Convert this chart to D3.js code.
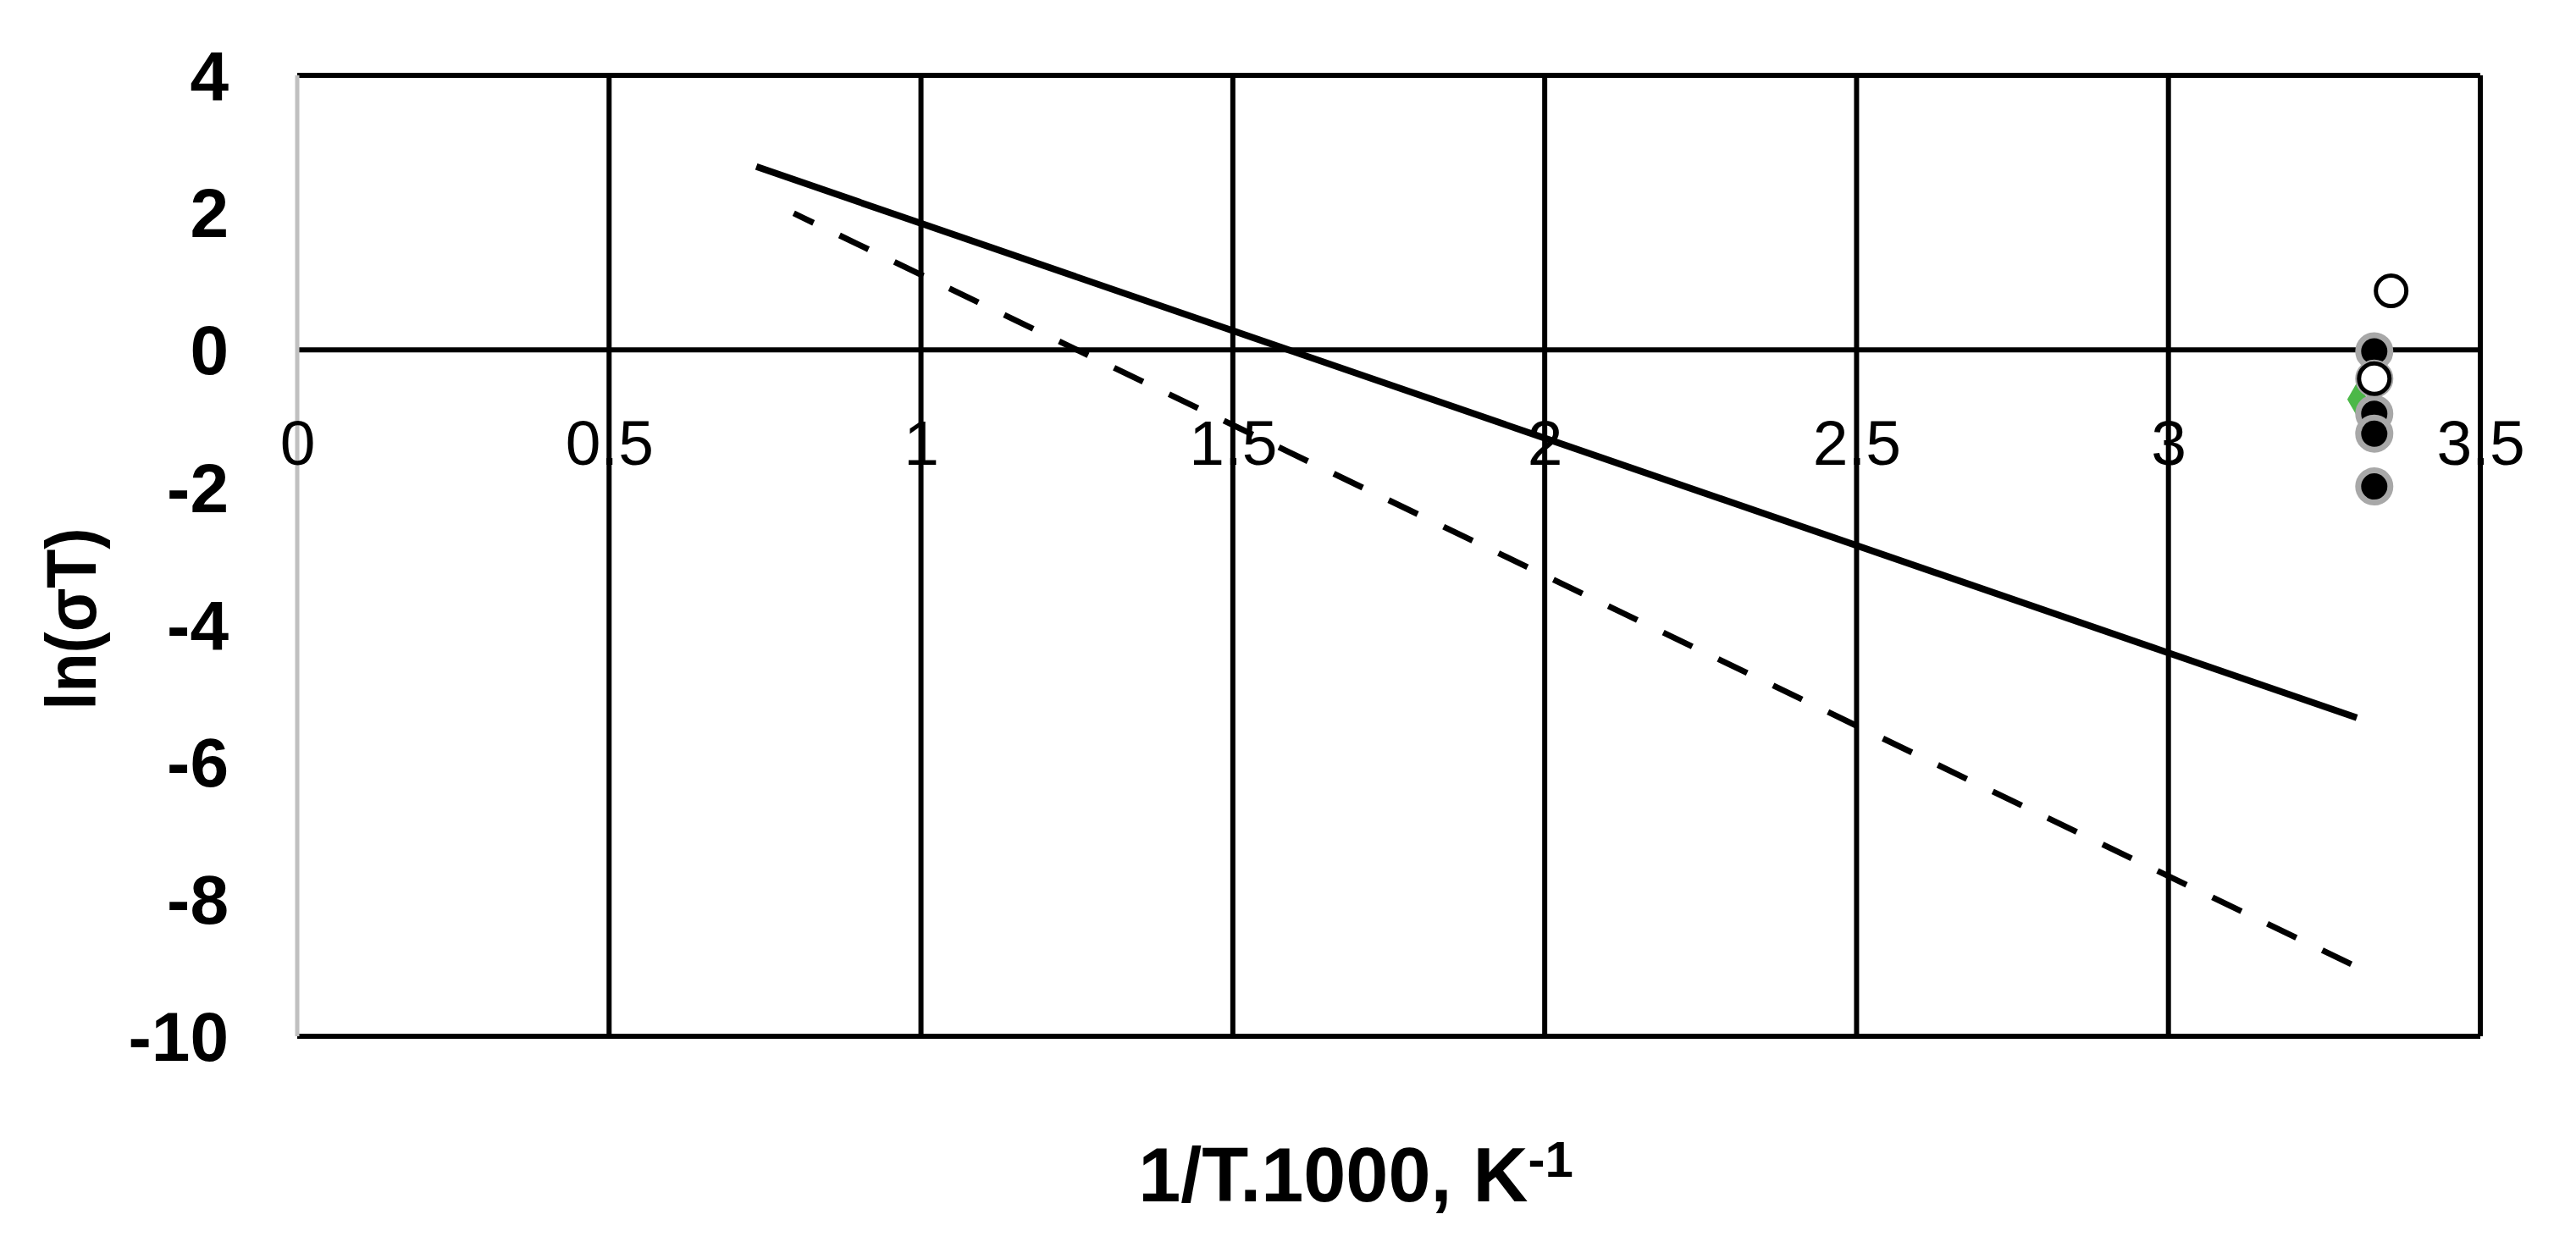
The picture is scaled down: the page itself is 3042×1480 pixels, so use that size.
<!DOCTYPE html>
<html>
<head>
<meta charset="utf-8">
<script src="https://cdn.jsdelivr.net/npm/d3@7"></script>
<style>
  html, body { margin: 0; padding: 0; background: #fff; }
  svg { display: block; }
</style>
</head>
<body>
<svg id="chart" width="3042" height="1480"></svg>
<script>
// tick values
const xTicks = [0, 0.5, 1, 1.5, 2, 2.5, 3, 3.5];
const yTicks = [4, 2, 0, -2, -4, -6, -8, -10];
const hLines = [4, 0, -10];

// fitted lines (end points)
const solidX = [0.736, 3.302];
const solidY = [2.67, -5.36];
const dashX = [0.796, 3.302];
const dashY = [1.99, -8.99];

// measured points near 1/T = 3.3
const filledX = [3.33, 3.33, 3.33, 3.33, 3.33];
const filledY = [-0.02, -0.42, -0.93, -1.22, -1.99];
const openX = [3.357, 3.33];
const openY = [0.86, -0.42];
const greenX = [3.303];
const greenY = [-0.72];

const svg = d3.select("#chart");
const plotLeft = 351, plotRight = 2929, plotTop = 89, plotBottom = 1224;

const x = d3.scaleLinear().domain([0, 3.5]).range([plotLeft, plotRight]);
const y = d3.scaleLinear().domain([-10, 4]).range([plotBottom, plotTop]);

// vertical gridlines
svg.append("g").selectAll("line")
  .data(xTicks.filter(d => d > 0))
  .join("line")
  .attr("x1", d => x(d)).attr("x2", d => x(d))
  .attr("y1", y(4)).attr("y2", y(-10))
  .attr("stroke", "#000").attr("stroke-width", 6);

// horizontal lines: top, zero axis, bottom
svg.append("g").selectAll("line")
  .data(hLines)
  .join("line")
  .attr("x1", x(0)).attr("x2", x(3.5))
  .attr("y1", d => y(d)).attr("y2", d => y(d))
  .attr("stroke", "#000").attr("stroke-width", 6);

// y axis (grey)
svg.append("line")
  .attr("x1", x(0)).attr("x2", x(0))
  .attr("y1", y(4)).attr("y2", y(-10))
  .attr("stroke", "#c0c0c0").attr("stroke-width", 5);

// x tick labels sit under the zero line
const xAxis = svg.append("g")
  .attr("transform", `translate(0,${y(0)})`)
  .call(d3.axisBottom(x).tickValues(xTicks).tickSize(0).tickPadding(82)
    .tickFormat(d => String(d)));
xAxis.select(".domain").remove();
xAxis.selectAll("text")
  .attr("font-family", "'Liberation Sans', Arial, sans-serif")
  .attr("font-size", 75).attr("fill", "#000");

const yAxis = svg.append("g")
  .attr("transform", `translate(${x(0)},0)`)
  .call(d3.axisLeft(y).tickValues(yTicks).tickSize(0).tickPadding(81)
    .tickFormat(d => String(d)));
yAxis.select(".domain").remove();
yAxis.selectAll("text")
  .attr("font-family", "'Liberation Sans', Arial, sans-serif")
  .attr("font-weight", "bold")
  .attr("font-size", 82).attr("dy", "0.35em").attr("fill", "#000");

// trend lines
const line = d3.line().x(d => x(d[0])).y(d => y(d[1]));

svg.append("path")
  .datum(d3.zip(solidX, solidY))
  .attr("d", line)
  .attr("fill", "none").attr("stroke", "#000").attr("stroke-width", 8);

svg.append("path")
  .datum(d3.zip(dashX, dashY))
  .attr("d", line)
  .attr("fill", "none").attr("stroke", "#000").attr("stroke-width", 7)
  .attr("stroke-dasharray", "38,34").attr("stroke-dashoffset", 12);

// green marker, mostly hidden behind the others
svg.append("g").selectAll("path")
  .data(d3.zip(greenX, greenY))
  .join("path")
  .attr("transform", d => `translate(${x(d[0])},${y(d[1])})`)
  .attr("d", d3.symbol(d3.symbolDiamond, 500))
  .attr("fill", "#4cb848");

svg.append("g").selectAll("circle")
  .data(d3.zip(filledX, filledY))
  .join("circle")
  .attr("cx", d => x(d[0])).attr("cy", d => y(d[1]))
  .attr("r", 19)
  .attr("fill", "#000").attr("stroke", "#a8a8a8").attr("stroke-width", 7);

svg.append("g").selectAll("circle")
  .data(d3.zip(openX, openY))
  .join("circle")
  .attr("cx", d => x(d[0])).attr("cy", d => y(d[1]))
  .attr("r", 18)
  .attr("fill", "#fff").attr("stroke", "#000").attr("stroke-width", 5);

// axis titles
svg.append("text")
  .attr("transform", "translate(113,731) rotate(-90)")
  .attr("text-anchor", "middle")
  .attr("font-family", "'Liberation Sans', Arial, sans-serif")
  .attr("font-weight", "bold").attr("font-size", 84)
  .attr("textLength", 215).attr("lengthAdjust", "spacingAndGlyphs")
  .text("ln(σT)");

const xt = svg.append("text")
  .attr("x", 1601).attr("y", 1419)
  .attr("text-anchor", "middle")
  .attr("font-family", "'Liberation Sans', Arial, sans-serif")
  .attr("font-weight", "bold").attr("font-size", 90);
xt.append("tspan").text("1/T.1000, K");
xt.append("tspan").attr("font-size", 60).attr("dy", -29).text("-1");
</script>
</body>
</html>
